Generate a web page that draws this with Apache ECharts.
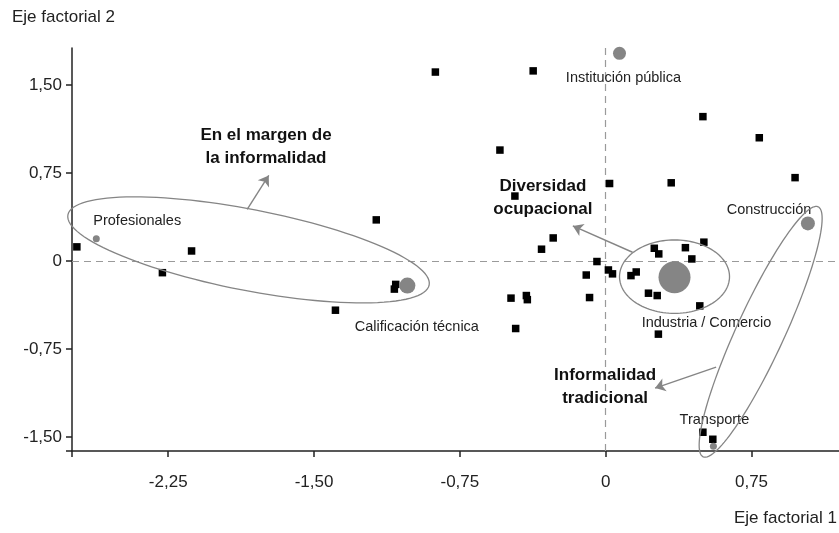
<!DOCTYPE html>
<html>
<head>
<meta charset="utf-8">
<script src="https://cdn.jsdelivr.net/npm/echarts@6/dist/echarts.min.js"></script>
<style>
  html, body { margin: 0; padding: 0; background: #fff; }
  #chart { width: 839px; height: 533px; }
</style>
</head>
<body>
<div id="chart"></div>
<script>
// Occupational profiles projected on the first two factorial axes
const profileX = [-2.72, -2.13, -1.18, -2.28, -1.39, -1.08, -1.087, -0.876, -0.373, 0.50,
                  0.79, -0.544, 0.02, 0.337, 0.974, -0.467, -0.27, -0.33, 0.505, 0.25,
                  0.273, 0.41, 0.443, -0.045, 0.014, 0.035, -0.10, 0.13, 0.157, 0.22,
                  0.265, 0.484, 0.271, -0.487, -0.408, -0.403, -0.083, -0.463, 0.50, 0.551];
const profileY = [0.12, 0.085, 0.35, -0.10, -0.42, -0.20, -0.24, 1.61, 1.62, 1.23,
                  1.05, 0.945, 0.66, 0.666, 0.71, 0.553, 0.196, 0.10, 0.16, 0.108,
                  0.06, 0.113, 0.017, -0.005, -0.077, -0.11, -0.12, -0.125, -0.094, -0.275,
                  -0.295, -0.383, -0.624, -0.317, -0.295, -0.33, -0.312, -0.576, -1.46, -1.52];

// Sector / qualification centroids
const categoryNames = ['Profesionales', 'Calificación técnica', 'Institución pública',
                       'Construcción', 'Industria / Comercio', 'Transporte'];
const categoryX = [-2.62, -1.02, 0.071, 1.04, 0.354, 0.554];
const categoryY = [0.19, -0.21, 1.77, 0.32, -0.139, -1.58];

// Axis tick values
const xTickValues = [-2.25, -1.5, -0.75, 0, 0.75];
const yTickValues = [-1.5, -0.75, 0, 0.75, 1.5];

// Group annotations
const groupTitles = ['En el margen de\nla informalidad', 'Diversidad\nocupacional', 'Informalidad\ntradicional'];

// ---- layout and styling ----
const X_MIN = -2.745, X_MAX = 1.2, Y_MIN = -1.62, Y_MAX = 1.815;
const FONT = '"Liberation Sans", Arial, sans-serif';
const GRAY = '#858585';

const circleSize = {
  'Profesionales': 7, 'Calificación técnica': 16, 'Institución pública': 13,
  'Construcción': 14, 'Industria / Comercio': 32, 'Transporte': 7
};
const labelPlacement = {
  'Profesionales':        { offset: [-3, -18], align: 'left' },
  'Calificación técnica': { offset: [9.5, 41.5], align: 'center' },
  'Institución pública':  { offset: [4, 25], align: 'center' },
  'Construcción':         { offset: [3.5, -13], align: 'right' },
  'Industria / Comercio': { offset: [32, 46], align: 'center' },
  'Transporte':           { offset: [1, -26], align: 'center' }
};
// annotation anchors in axis units; ellipse radii / rotation in pixels
const titleAnchors = [[-1.747, 0.970], [-0.323, 0.540], [-0.003, -1.077]];
const ellipses = [
  { c: [-1.837, 0.094], a: 184, b: 40.5, rot: 11 },
  { c: [0.354, -0.134], a: 55, b: 36.7, rot: 0 },
  { c: [0.797, -0.604], a: 137.6, b: 24, rot: -65.3 }
];
const arrows = [
  [[-1.844, 0.440], [-1.733, 0.729]],
  [[0.138, 0.074], [-0.169, 0.298]],
  [[0.568, -0.905], [0.254, -1.084]]
];

const fmt = v => (Math.abs(v) < 1e-9 ? '0' : v.toFixed(2).replace('.', ','));

const chart = echarts.init(document.getElementById('chart'), null, { renderer: 'canvas' });

const option = {
  animation: false,
  backgroundColor: '#fff',
  grid: { left: 72, right: 0, top: 48, bottom: 82, containLabel: false, outerBoundsMode: 'none' },
  xAxis: {
    type: 'value', min: X_MIN, max: X_MAX,
    axisLine: { onZero: false, lineStyle: { color: '#222', width: 1.5 } },
    axisTick: { show: true, length: 6, customValues: [X_MIN].concat(xTickValues), lineStyle: { color: '#222', width: 1.5 } },
    axisLabel: { customValues: xTickValues, formatter: fmt, margin: 23, color: '#222', fontSize: 17, fontFamily: FONT },
    splitLine: { show: false }
  },
  yAxis: {
    type: 'value', min: Y_MIN, max: Y_MAX,
    axisLine: { onZero: false, lineStyle: { color: '#222', width: 1.5 } },
    axisTick: { show: true, length: 6, customValues: [Y_MIN].concat(yTickValues), lineStyle: { color: '#222', width: 1.5 } },
    axisLabel: { customValues: yTickValues, formatter: fmt, margin: 10, color: '#222', fontSize: 17, fontFamily: FONT },
    splitLine: { show: false }
  },
  graphic: [
    { type: 'text', left: 12, top: 9, style: { text: 'Eje factorial 2', font: '17px ' + FONT, fill: '#222' } },
    { type: 'text', right: 2, top: 510, style: { text: 'Eje factorial 1', font: '17px ' + FONT, fill: '#222' } }
  ],
  series: [
    {
      name: 'perfiles',
      type: 'scatter',
      z: 3,
      symbol: 'rect',
      symbolSize: 7.5,
      itemStyle: { color: '#000', opacity: 1 },
      silent: true,
      data: profileX.map((x, i) => [x, profileY[i]]),
      markLine: {
        silent: true, z: 1, symbol: 'none', animation: false,
        label: { show: false },
        lineStyle: { color: '#9a9a9a', width: 1.2, type: [7, 5] },
        data: [{ xAxis: 0 }, { yAxis: 0 }]
      }
    },
    {
      name: 'categorías',
      type: 'scatter',
      z: 4,
      symbol: 'circle',
      itemStyle: { color: GRAY, opacity: 1 },
      silent: true,
      data: categoryNames.map((n, i) => ({
        name: n,
        value: [categoryX[i], categoryY[i]],
        symbolSize: circleSize[n],
        label: {
          show: true, position: 'inside', formatter: '{b}',
          offset: labelPlacement[n].offset, align: labelPlacement[n].align,
          verticalAlign: 'middle', color: '#222', fontSize: 14.5, fontFamily: FONT
        }
      })),
      markLine: {
        silent: true, z: 5, animation: false,
        symbol: ['none', 'arrow'], symbolSize: 10,
        label: { show: false },
        lineStyle: { color: GRAY, width: 1.4, type: 'solid' },
        data: arrows.map(([p, q]) => [{ coord: p }, { coord: q }])
      }
    },
    {
      name: 'grupos',
      type: 'custom',
      z: 5,
      silent: true,
      data: ellipses.map(e => e.c),
      renderItem: function (params, api) {
        const e = ellipses[params.dataIndex];
        const c = api.coord([api.value(0), api.value(1)]);
        const r = e.rot * Math.PI / 180;
        const cr = Math.cos(r), sr = Math.sin(r);
        const pts = [];
        for (let k = 0; k < 120; k++) {
          const t = k / 120 * Math.PI * 2;
          const ux = e.a * Math.cos(t), uy = e.b * Math.sin(t);
          pts.push([c[0] + ux * cr - uy * sr, c[1] + ux * sr + uy * cr]);
        }
        return {
          type: 'polygon',
          shape: { points: pts },
          style: { fill: 'none', stroke: GRAY, lineWidth: 1.3 }
        };
      }
    },
    {
      name: 'títulos',
      type: 'custom',
      z: 6,
      silent: true,
      data: titleAnchors,
      renderItem: function (params, api) {
        const c = api.coord([api.value(0), api.value(1)]);
        return {
          type: 'text',
          x: c[0], y: c[1],
          style: {
            text: groupTitles[params.dataIndex],
            font: 'bold 17px ' + FONT,
            fill: '#111',
            align: 'center',
            verticalAlign: 'middle',
            lineHeight: 23
          }
        };
      }
    }
  ]
};

chart.setOption(option);
</script>
</body>
</html>
